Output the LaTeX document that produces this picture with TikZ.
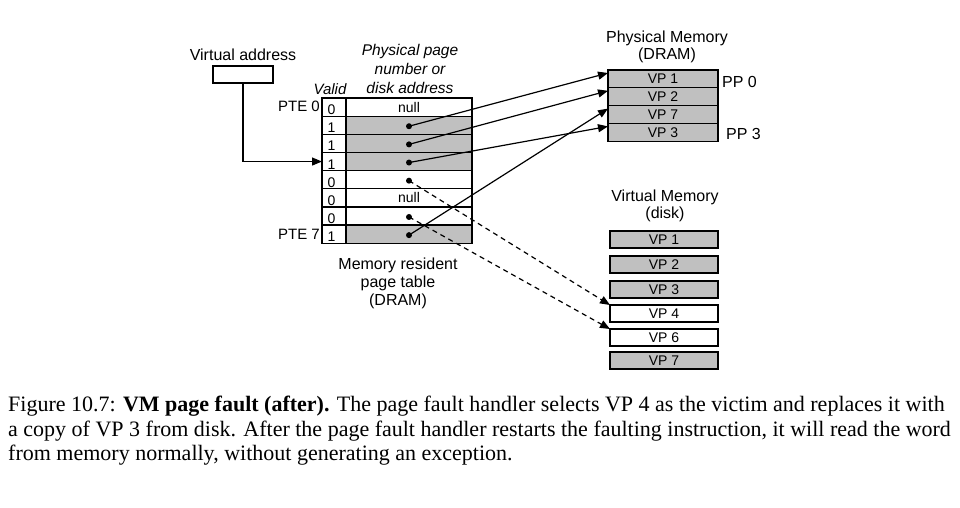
\documentclass[tikz,border=0pt]{standalone}
\usepackage{fontspec}
\setmainfont{Liberation Serif}
\setsansfont{Liberation Sans}
\usetikzlibrary{arrows.meta,calc}
\definecolor{cellgray}{RGB}{192,192,192}
\tikzset{
  cell/.style={draw=black, line width=1.2pt, inner sep=0pt, outer sep=0pt},
  gcell/.style={cell, fill=cellgray},
  wcell/.style={cell, fill=white},
  lbl/.style={font=\sffamily\fontsize{16}{17}\selectfont, inner sep=0pt, align=center},
  small/.style={font=\sffamily\fontsize{14}{15}\selectfont, inner sep=0pt},
  ptr/.style={line width=1.2pt, -{Triangle[length=10pt,width=8pt]}},
  dptr/.style={ptr, dash pattern=on 5pt off 4pt},
  dot/.style={circle, fill=black, inner sep=0pt, minimum size=6pt},
  captext/.style={font=\rmfamily\fontsize{22}{24}\selectfont, inner sep=0pt, anchor=base west}
}
\begin{document}
\begin{tikzpicture}[x=1pt,y=-1pt]
\useasboundingbox[fill=white] (0,0) rectangle (960,507);

% ---- page table ----
\foreach \i/\v/\f in {0/0/wcell,1/1/gcell,2/1/gcell,3/1/gcell,4/0/wcell,5/0/wcell,6/0/wcell,7/1/gcell}{
  \node[wcell, minimum width=24pt, minimum height=18.15pt] (v\i) at (334, {98+18.15*(\i+0.5)}) {};
  \node[\f, minimum width=126pt, minimum height=18.15pt] (p\i) at (409, {98+18.15*(\i+0.5)}) {};
  \node[small, anchor=base west] (vd\i) at (327.5, {98+18.15*(\i+0.5)+7.5}) {\v};
}
\node[small] (n0) at (p0.center) {null};
\node[small] (n5) at (p5.center) {null};
\foreach \i in {1,2,3,4,6,7}{
  \node[dot] (d\i) at ($(p\i.center)+(0,1)$) {};
}
\node[lbl, anchor=east, font=\sffamily\fontsize{15}{16}\selectfont] (pte0) at (320,106.5) {PTE 0};
\node[lbl, anchor=east, font=\sffamily\fontsize{15}{16}\selectfont] (pte7) at (320,234.5) {PTE 7};
\node[lbl, font=\sffamily\itshape\fontsize{15}{16}\selectfont] (valid) at (330,89) {Valid};
\node[lbl, font=\sffamily\itshape\fontsize{15.5}{18.7}\selectfont] (ppnl) at (410,69) {Physical page\\number or\\disk address};
\node[lbl, font=\sffamily\fontsize{16}{18}\selectfont] (mrpt) at (398,283.5) {Memory resident\\page table\\(DRAM)};

% ---- virtual address ----
\node[wcell, minimum width=60pt, minimum height=17pt] (va) at (243,74.5) {};
\node[lbl] (val) at (243,55) {Virtual address};
\draw[ptr] (va.south) |- (v3.west);

% ---- physical memory ----
\foreach \i/\t in {0/VP 1,1/VP 2,2/VP 7,3/VP 3}{
  \node[gcell, minimum width=110pt, minimum height=17.8pt] (m\i) at (663, {70+17.8*(\i+0.5)}) {};
  \node[small] (mt\i) at (m\i.center) {\t};
}
\node[lbl, font=\sffamily\fontsize{16}{17}\selectfont] (pml) at (667,46.5) {Physical Memory\\(DRAM)};
\node[lbl, anchor=west] (pp0) at (722,81.5) {PP 0};
\node[lbl, anchor=west] (pp3) at (726,134) {PP 3};

% ---- disk ----
\foreach \n/\t/\f/\top in {1/VP 1/gcell/231,2/VP 2/gcell/256,3/VP 3/gcell/281,4/VP 4/wcell/305,6/VP 6/wcell/329,7/VP 7/gcell/352}{
  \node[\f, minimum width=108pt, minimum height=17pt] (k\n) at (664, {\top+8.5}) {};
  \node[small] (kt\n) at (k\n.center) {\t};
}
\node[lbl, font=\sffamily\fontsize{16}{17}\selectfont] (vml) at (665,205.5) {Virtual Memory\\(disk)};

% ---- pointers ----
\draw[ptr] (d1.center) -- ($(m0.north west)+(0,3)$);
\draw[ptr] (d2.center) -- ($(m1.north west)+(0,3)$);
\draw[ptr] (d3.center) -- ($(m3.north west)+(0,3)$);
\draw[ptr] (d7.center) -- ($(m2.north west)+(0,3)$);
\draw[dptr] (d4.center) -- (k4.north west);
\draw[dptr] (d6.center) -- (k6.north west);

% ---- caption ----
\node[captext] (c1) at (8,411.5) {Figure 10.7: \textbf{VM page fault (after).} The page fault handler selects VP 4 as the victim and replaces it with};
\node[captext] (c2) at (8,436) {a copy of VP 3 from disk. After the page fault handler restarts the faulting instruction, it will read the word};
\node[captext] (c3) at (8,460.5) {from memory normally, without generating an exception.};
\end{tikzpicture}
\end{document}
